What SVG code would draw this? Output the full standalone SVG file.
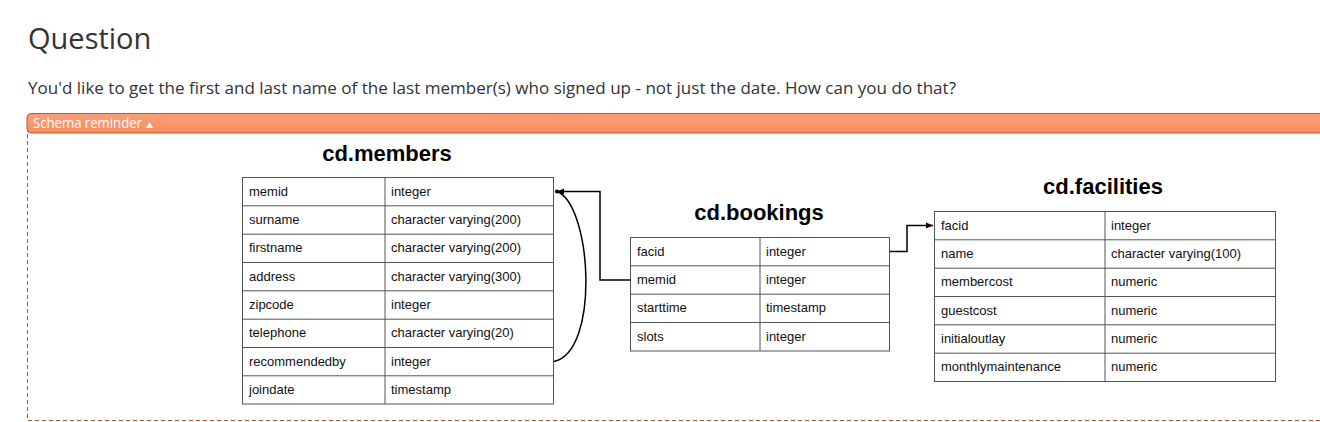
<svg xmlns="http://www.w3.org/2000/svg" width="1320" height="422" viewBox="0 0 1320 422">
<defs>
<linearGradient id="bar" x1="0" y1="0" x2="0" y2="1"><stop offset="0" stop-color="#fa9e7a"/><stop offset="1" stop-color="#f98d62"/></linearGradient>
<marker id="arr" markerWidth="8" markerHeight="8" refX="7" refY="4" orient="auto" markerUnits="userSpaceOnUse"><path d="M0,1 L7,4 L0,7 Z" fill="#000"/></marker>
<style>
.page{font-family:"Open Sans","DejaVu Sans",sans-serif;fill:#333}
.tt{font-family:"Liberation Sans",Arial,sans-serif;font-weight:bold;font-size:22px;fill:#000;text-anchor:middle}
.c{font-family:"Liberation Sans",Arial,sans-serif;font-size:13px;fill:#111}
.tb{fill:#fff;stroke:#555;stroke-width:1}
.ln{stroke:#555;stroke-width:1}
.cn{fill:none;stroke:#000;stroke-width:1.5}
</style>
</defs>
<rect width="1320" height="422" fill="#fff"/>
<text class="page" x="28" y="49" font-size="29">Question</text>
<text class="page" x="28" y="94" font-size="16.5" textLength="928" lengthAdjust="spacingAndGlyphs">You'd like to get the first and last name of the last member(s) who signed up - not just the date. How can you do that?</text>
<path d="M1320,113.5 H31 a4,4 0 0 0 -4,4 V129 a4,4 0 0 0 4,4 H1320" fill="url(#bar)" stroke="#c4572f" stroke-width="1"/>
<text x="33" y="127.5" font-family="Open Sans, DejaVu Sans, sans-serif" font-size="14" fill="#fff" textLength="109" lengthAdjust="spacingAndGlyphs">Schema reminder</text>
<path d="M146,128 L149.5,122 L153,128 Z" fill="#fff"/>
<path d="M27.5,134 V420.5 H1320" fill="none" stroke="#b8552f" stroke-width="1" stroke-dasharray="4,3"/>

<g id="members">
<text class="tt" x="387" y="161">cd.members</text>
<rect class="tb" x="242.5" y="177.5" width="311" height="226.5"/>
<path class="ln" d="M385,177.5 V404 M242.5,205.8 H553.5 M242.5,234.2 H553.5 M242.5,262.5 H553.5 M242.5,290.8 H553.5 M242.5,319.2 H553.5 M242.5,347.5 H553.5 M242.5,375.8 H553.5"/>
<g class="c">
<text x="249" y="195.5">memid</text><text x="391" y="195.5">integer</text>
<text x="249" y="223.8">surname</text><text x="391" y="223.8">character varying(200)</text>
<text x="249" y="252.2">firstname</text><text x="391" y="252.2">character varying(200)</text>
<text x="249" y="280.5">address</text><text x="391" y="280.5">character varying(300)</text>
<text x="249" y="308.8">zipcode</text><text x="391" y="308.8">integer</text>
<text x="249" y="337.2">telephone</text><text x="391" y="337.2">character varying(20)</text>
<text x="249" y="365.5">recommendedby</text><text x="391" y="365.5">integer</text>
<text x="249" y="393.8">joindate</text><text x="391" y="393.8">timestamp</text>
</g>
</g>

<g id="bookings">
<text class="tt" x="759" y="220">cd.bookings</text>
<rect class="tb" x="630.5" y="237.5" width="259" height="113.5"/>
<path class="ln" d="M760,237.5 V351 M630.5,265.8 H889.5 M630.5,294.2 H889.5 M630.5,322.5 H889.5"/>
<g class="c">
<text x="637" y="255.5">facid</text><text x="766" y="255.5">integer</text>
<text x="637" y="283.8">memid</text><text x="766" y="283.8">integer</text>
<text x="637" y="312.2">starttime</text><text x="766" y="312.2">timestamp</text>
<text x="637" y="340.5">slots</text><text x="766" y="340.5">integer</text>
</g>
</g>

<g id="facilities">
<text class="tt" x="1103" y="194">cd.facilities</text>
<rect class="tb" x="934.5" y="211.5" width="341" height="170"/>
<path class="ln" d="M1105,211.5 V381.5 M934.5,239.8 H1275.5 M934.5,268.2 H1275.5 M934.5,296.5 H1275.5 M934.5,324.8 H1275.5 M934.5,353.2 H1275.5"/>
<g class="c">
<text x="941" y="229.5">facid</text><text x="1111" y="229.5">integer</text>
<text x="941" y="257.8">name</text><text x="1111" y="257.8">character varying(100)</text>
<text x="941" y="286.2">membercost</text><text x="1111" y="286.2">numeric</text>
<text x="941" y="314.5">guestcost</text><text x="1111" y="314.5">numeric</text>
<text x="941" y="342.8">initialoutlay</text><text x="1111" y="342.8">numeric</text>
<text x="941" y="371.2">monthlymaintenance</text><text x="1111" y="371.2">numeric</text>
</g>
</g>

<g id="connectors">
<path class="cn" d="M630,280 H600 V191.5 H557" marker-end="url(#arr)"/>
<circle cx="557" cy="191.5" r="2" fill="#000"/>
<path class="cn" d="M554,361.5 C600,352 592,205 557,191.5"/>
<path class="cn" d="M890,251.5 H907 V225.5 H933" marker-end="url(#arr)"/>
</g>
</svg>
